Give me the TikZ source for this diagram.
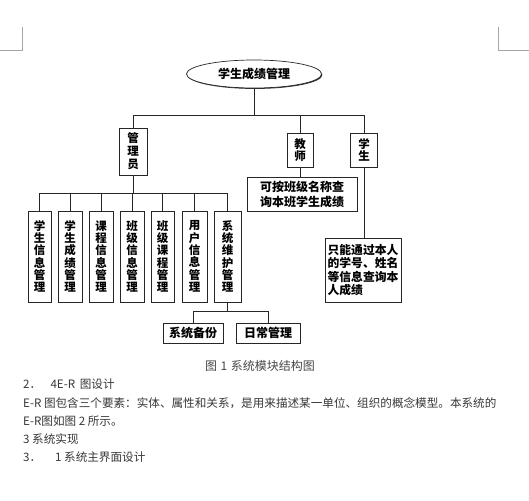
\documentclass[tikz,border=0pt]{standalone}
\usepackage{fontspec}
\setmainfont{Liberation Sans}
\newfontfamily\cjk{Noto Sans CJK SC}
\usetikzlibrary{shapes.geometric,shadows}
\tikzset{
  box/.style={draw=black!85,line width=0.7pt,fill=white,inner sep=0pt,
    drop shadow={shadow xshift=0.9pt,shadow yshift=-0.9pt,fill=black!80,opacity=1},
    font=\cjk\bfseries\fontsize{11.5}{12.3}\selectfont,align=center},
  conn/.style={draw=black!85,line width=0.8pt},
  body/.style={anchor=west,inner sep=0pt,text=black!78,font=\cjk\fontsize{11.6}{13}\selectfont},
  corner/.style={draw=black!35,line width=0.6pt}
}
\begin{document}
\begin{tikzpicture}[x=1pt,y=-1pt]
\useasboundingbox (0,0) rectangle (529,500);
\fill[white] (0,0) rectangle (529,500);
% corner marks
\coordinate (c1) at (22,27); \coordinate (c2) at (22,50); \coordinate (c3) at (0,50);
\coordinate (c4) at (498,27); \coordinate (c5) at (498,50); \coordinate (c6) at (529,50);
\draw[corner] (c1) -- (c2) -- (c3);
\draw[corner] (c4) -- (c5) -- (c6);
% root
\node[box,ellipse,minimum width=135pt,minimum height=28pt,font=\cjk\bfseries\fontsize{12}{13}\selectfont] (root) at (254,74) {学生成绩管理};
% second level
\node[box,minimum width=28pt,minimum height=47pt,font=\cjk\bfseries\fontsize{11.5}{13}\selectfont] (admin) at (133,151.5) {管\\理\\员};
\node[box,minimum width=26pt,minimum height=34pt,font=\cjk\bfseries\fontsize{11.5}{12.5}\selectfont] (teacher) at (300,150) {教\\师};
\node[box,minimum width=27pt,minimum height=34pt,font=\cjk\bfseries\fontsize{11.5}{12.5}\selectfont] (student) at (364,150) {学\\生};
\node[box,minimum width=110pt,minimum height=34pt,font=\cjk\bfseries\fontsize{12}{15}\selectfont] (tdesc) at (302,194) {可按班级名称查\\询本班学生成绩};
\node[box,minimum width=76pt,minimum height=64pt,align=left,font=\cjk\bfseries\fontsize{11.8}{13.3}\selectfont] (sdesc) at (363,270) {只能通过本人\\的学号、姓名\\等信息查询本\\人成绩};
% modules
\node[box,minimum width=23pt,minimum height=91pt] (m1) at (39.5,256.5) {学\\生\\信\\息\\管\\理};
\node[box,minimum width=24pt,minimum height=91pt] (m2) at (70,256.5) {学\\生\\成\\绩\\管\\理};
\node[box,minimum width=24pt,minimum height=91pt] (m3) at (101,256.5) {课\\程\\信\\息\\管\\理};
\node[box,minimum width=24pt,minimum height=91pt] (m4) at (132,256.5) {班\\级\\信\\息\\管\\理};
\node[box,minimum width=23pt,minimum height=91pt] (m5) at (162.5,256.5) {班\\级\\课\\程\\管\\理};
\node[box,minimum width=25pt,minimum height=91pt] (m6) at (194.5,256.5) {用\\户\\信\\息\\管\\理};
\node[box,minimum width=27pt,minimum height=91pt] (m7) at (227.5,256.5) {系\\统\\维\\护\\管\\理};
\node[box,minimum width=60pt,minimum height=20pt,font=\cjk\bfseries\fontsize{12}{13}\selectfont] (b1) at (193,333) {系统备份};
\node[box,minimum width=64pt,minimum height=20pt,font=\cjk\bfseries\fontsize{12}{13}\selectfont] (b2) at (268,333) {日常管理};
% bus coordinates
\coordinate (busA) at (0,115);
\coordinate (busB) at (0,193);
\coordinate (busC) at (0,311);
% connectors level 1
\draw[conn] (root.south) -- (root.south |- busA);
\draw[conn] (admin.north) -- (admin.north |- busA) -- (student.north |- busA) -- (student.north);
\draw[conn] (teacher.north) -- (teacher.north |- busA);
\draw[conn] (teacher.south) -- (teacher.south |- tdesc.north);
\draw[conn] (student.south) -- (student.south |- sdesc.north);
% connectors level 2
\draw[conn] (admin.south) -- (admin.south |- busB);
\draw[conn] (m1.north) -- (m1.north |- busB) -- (m7.north |- busB) -- (m7.north);
\foreach \m in {m2,m3,m4,m5,m6}{\draw[conn] (\m.north) -- (\m.north |- busB);}
% connectors level 3
\draw[conn] (m7.south) -- (m7.south |- busC);
\draw[conn] (b1.north) -- (b1.north |- busC) -- (b2.north |- busC) -- (b2.north);
% caption and body text
\node[inner sep=0pt,text=black!72,font=\cjk\fontsize{12}{13}\selectfont] (cap) at (260,366) {图\hspace{0.3em}1\hspace{0.3em}系统模块结构图};
\node[body] (t1) at (23,384) {2．\hspace{0.8em}4E-R\hspace{0.4em}图设计};
\node[body] (t2) at (23,403) {E-R 图包含三个要素：实体、属性和关系，是用来描述某一单位、组织的概念模型。本系统的};
\node[body] (t3) at (23,421) {E-R图如图 2 所示。};
\node[body] (t4) at (23,439) {3 系统实现};
\node[body] (t5) at (23,457) {3．\hspace{1.2em}1 系统主界面设计};
\end{tikzpicture}
\end{document}
